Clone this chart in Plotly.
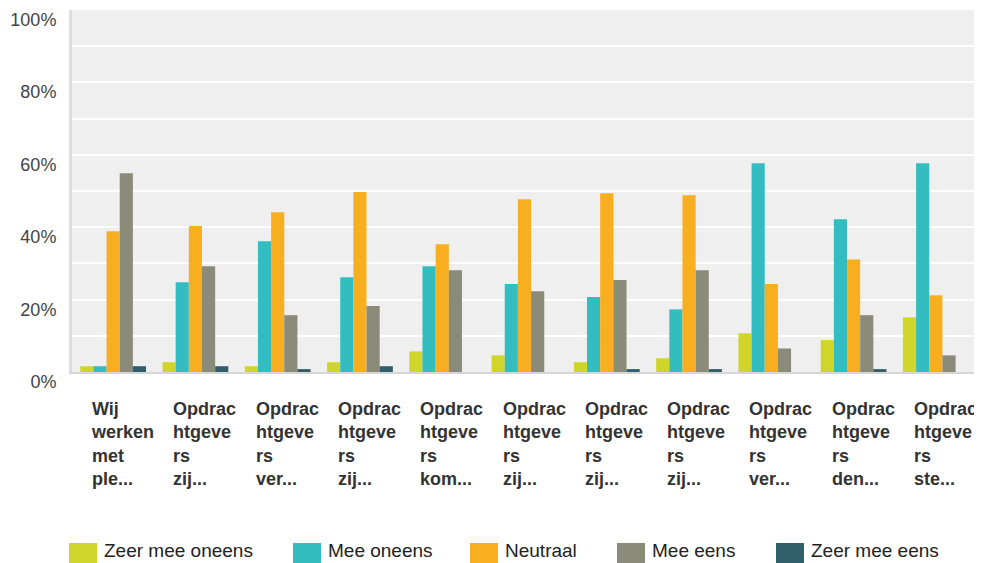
import plotly.graph_objects as go

# ---- data ----
tick_labels = [
    "Wij<br>werken<br>met<br>ple...",
    "Opdrac<br>htgeve<br>rs<br>zij...",
    "Opdrac<br>htgeve<br>rs<br>ver...",
    "Opdrac<br>htgeve<br>rs<br>zij...",
    "Opdrac<br>htgeve<br>rs<br>kom...",
    "Opdrac<br>htgeve<br>rs<br>zij...",
    "Opdrac<br>htgeve<br>rs<br>zij...",
    "Opdrac<br>htgeve<br>rs<br>zij...",
    "Opdrac<br>htgeve<br>rs<br>ver...",
    "Opdrac<br>htgeve<br>rs<br>den...",
    "Opdrac<br>htgeve<br>rs<br>ste...",
]
series_names = ["Zeer mee oneens", "Mee oneens", "Neutraal", "Mee eens", "Zeer mee eens"]
zeer_mee_oneens = [1.6, 2.7, 1.6, 2.7, 5.7, 4.6, 2.7, 3.8, 10.7, 8.8, 15.1]
mee_oneens      = [1.6, 24.8, 36.1, 26.2, 29.2, 24.3, 20.7, 17.3, 57.7, 42.2, 57.7]
neutraal        = [38.9, 40.3, 44.1, 49.7, 35.3, 47.7, 49.4, 48.8, 24.3, 31.1, 21.2]
mee_eens        = [54.9, 29.2, 15.7, 18.2, 28.1, 22.3, 25.4, 28.1, 6.5, 15.7, 4.6]
zeer_mee_eens   = [1.6, 1.6, 0.8, 1.6, 0, 0, 0.8, 0.8, 0, 0.8, 0]
y_tick_values = [0, 10, 20, 30, 40, 50, 60, 70, 80, 90, 100]
y_tick_text = ["0%", "", "20%", "", "40%", "", "60%", "", "80%", "", "100%"]

# ---- style / layout (page pixel coords; page body has an 8px margin) ----
colors = ["#D0D52A", "#33BDC0", "#F7AF1F", "#8B8B7A", "#2F5F6B"]
OFF = 8
W, H = 982 - OFF, 563 - OFF
plot_left, plot_right, plot_top, plot_bottom = 72, 977, 10, 372
L = plot_left - OFF
T = plot_top - OFF
R = W - (plot_right - OFF)
B = H - (plot_bottom - OFF)
plot_w = plot_right - plot_left
plot_h = plot_bottom - plot_top


def px_x(px):
    return (px - plot_left) / plot_w


def px_y(py):
    return (plot_bottom - py) / plot_h


fig = go.Figure()
x_idx = list(range(len(tick_labels)))
for name, vals, col in zip(series_names,
                           [zeer_mee_oneens, mee_oneens, neutraal, mee_eens, zeer_mee_eens],
                           colors):
    fig.add_trace(go.Bar(x=x_idx, y=vals, name=name, marker_color=col,
                         marker_line_width=0, showlegend=False))

annotations = []
for i, lab in enumerate(tick_labels):
    annotations.append(dict(
        x=i, xref="x", y=px_y(397), yref="paper",
        text=lab, showarrow=False, xanchor="left", yanchor="top", align="left",
        xshift=-24,
        font=dict(family="Arial, Liberation Sans, sans-serif", size=18, color="#333333", weight="bold"),
    ))

# custom legend with large squares
legend_sq_x = [69, 293, 470, 617, 776]
shapes = []
for name, col, px in zip(series_names, colors, legend_sq_x):
    shapes.append(dict(type="rect", xref="paper", yref="paper",
                       x0=px_x(px), x1=px_x(px + 28), y0=px_y(572), y1=px_y(543),
                       fillcolor=col, line=dict(width=0), layer="above"))
    annotations.append(dict(
        x=px_x(px + 33), xref="paper", y=px_y(550.5), yref="paper",
        text=name, showarrow=False, xanchor="left", yanchor="middle",
        font=dict(family="Arial, Liberation Sans, sans-serif", size=19, color="#222222"),
    ))

fig.update_layout(
    width=W, height=H,
    margin=dict(l=L, r=R, t=T, b=B, pad=0),
    paper_bgcolor="white", plot_bgcolor="#EFEFEF",
    barmode="group", bargap=0.2, bargroupgap=0,
    annotations=annotations, shapes=shapes,
    showlegend=False,
    font=dict(family="Arial, Liberation Sans, sans-serif"),
)
fig.update_xaxes(range=[-0.5, len(tick_labels) - 0.5], showticklabels=False, showgrid=False,
                 zeroline=False, showline=True, linecolor="#D6D6D6", linewidth=2, ticks="")
fig.update_yaxes(range=[0, 100], tickvals=y_tick_values, ticktext=y_tick_text,
                 showgrid=True, gridcolor="white", gridwidth=2, zeroline=False,
                 showline=True, linecolor="#DEDEDE", linewidth=3, ticks="",
                 ticklabelposition="outside bottom", ticklabelstandoff=9, ticklabelshift=-3,
                 tickfont=dict(family="Arial, Liberation Sans, sans-serif", size=18, color="#444444"))

fig.write_html("out.html")
